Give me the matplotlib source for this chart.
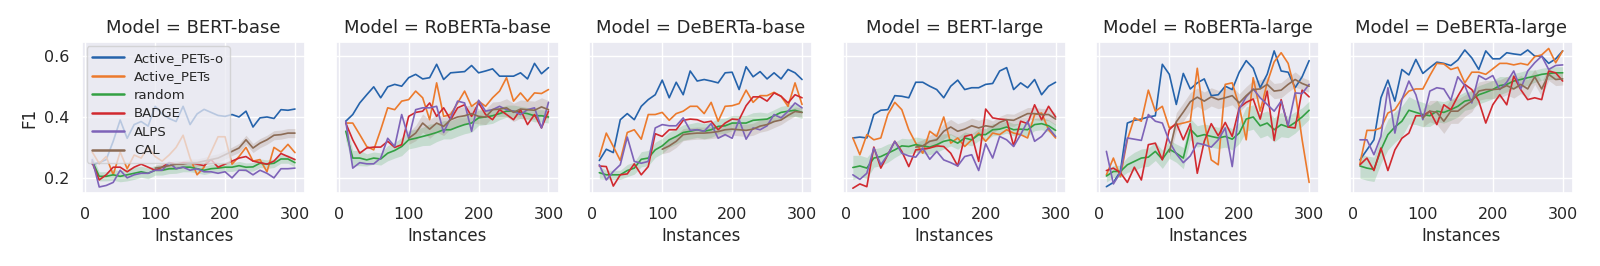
import numpy as np
import matplotlib
matplotlib.use("Agg")
import matplotlib.pyplot as plt
import seaborn as sns

models = ["BERT-base", "RoBERTa-base", "DeBERTa-base", "BERT-large", "RoBERTa-large", "DeBERTa-large"]
instances = list(range(10, 301, 10))
cal_instances = list(range(100, 301, 10))

# F1 per model, one list per strategy
pets_o = {
    "BERT-base": [0.245, 0.25, 0.26, 0.32, 0.39, 0.33, 0.375, 0.385, 0.37, 0.435, 0.41, 0.395, 0.385, 0.435, 0.375, 0.41, 0.425, 0.415, 0.405, 0.402, 0.408, 0.40, 0.419, 0.367, 0.397, 0.40, 0.395, 0.424, 0.422, 0.426],
    "RoBERTa-base": [0.386, 0.408, 0.446, 0.473, 0.499, 0.463, 0.499, 0.507, 0.501, 0.529, 0.54, 0.525, 0.529, 0.573, 0.523, 0.545, 0.547, 0.549, 0.569, 0.545, 0.551, 0.558, 0.534, 0.534, 0.534, 0.545, 0.525, 0.576, 0.542, 0.562],
    "DeBERTa-base": [0.257, 0.294, 0.283, 0.391, 0.411, 0.391, 0.435, 0.457, 0.473, 0.521, 0.463, 0.514, 0.473, 0.551, 0.518, 0.523, 0.518, 0.512, 0.545, 0.547, 0.49, 0.565, 0.532, 0.549, 0.525, 0.545, 0.525, 0.556, 0.545, 0.523],
    "BERT-large": [0.331, 0.334, 0.331, 0.408, 0.422, 0.424, 0.47, 0.468, 0.463, 0.514, 0.514, 0.501, 0.49, 0.463, 0.501, 0.521, 0.49, 0.496, 0.496, 0.507, 0.51, 0.551, 0.562, 0.49, 0.512, 0.496, 0.523, 0.473, 0.501, 0.514],
    "RoBERTa-large": [0.171, 0.185, 0.221, 0.38, 0.389, 0.393, 0.40, 0.404, 0.573, 0.54, 0.441, 0.543, 0.492, 0.512, 0.525, 0.47, 0.473, 0.501, 0.49, 0.547, 0.585, 0.56, 0.496, 0.54, 0.617, 0.551, 0.547, 0.496, 0.532, 0.585],
    "DeBERTa-large": [0.259, 0.292, 0.325, 0.463, 0.521, 0.452, 0.556, 0.538, 0.589, 0.543, 0.562, 0.58, 0.576, 0.569, 0.587, 0.62, 0.594, 0.556, 0.617, 0.591, 0.591, 0.611, 0.607, 0.604, 0.62, 0.60, 0.60, 0.576, 0.591, 0.617],
}
pets = {
    "BERT-base": [0.285, 0.247, 0.27, 0.21, 0.285, 0.23, 0.275, 0.265, 0.30, 0.27, 0.255, 0.275, 0.30, 0.34, 0.265, 0.21, 0.235, 0.285, 0.335, 0.335, 0.245, 0.27, 0.30, 0.255, 0.26, 0.22, 0.30, 0.285, 0.31, 0.283],
    "RoBERTa-base": [0.38, 0.38, 0.342, 0.303, 0.292, 0.358, 0.43, 0.424, 0.452, 0.457, 0.485, 0.463, 0.391, 0.512, 0.402, 0.408, 0.446, 0.485, 0.435, 0.452, 0.435, 0.463, 0.485, 0.529, 0.452, 0.479, 0.452, 0.479, 0.477, 0.49],
    "DeBERTa-base": [0.27, 0.347, 0.303, 0.257, 0.349, 0.358, 0.327, 0.408, 0.408, 0.415, 0.389, 0.411, 0.419, 0.435, 0.435, 0.411, 0.448, 0.386, 0.435, 0.437, 0.444, 0.488, 0.448, 0.47, 0.47, 0.481, 0.468, 0.435, 0.512, 0.441],
    "BERT-large": [0.331, 0.276, 0.342, 0.325, 0.331, 0.408, 0.448, 0.424, 0.358, 0.314, 0.281, 0.353, 0.336, 0.40, 0.314, 0.331, 0.303, 0.325, 0.347, 0.32, 0.347, 0.342, 0.358, 0.347, 0.342, 0.331, 0.408, 0.413, 0.358, 0.331],
    "RoBERTa-large": [0.21, 0.265, 0.204, 0.325, 0.397, 0.386, 0.488, 0.419, 0.435, 0.364, 0.375, 0.38, 0.386, 0.56, 0.386, 0.259, 0.243, 0.507, 0.512, 0.435, 0.325, 0.529, 0.419, 0.512, 0.581, 0.611, 0.576, 0.485, 0.325, 0.185],
    "DeBERTa-large": [0.246, 0.356, 0.356, 0.364, 0.413, 0.424, 0.459, 0.485, 0.492, 0.492, 0.536, 0.576, 0.574, 0.556, 0.563, 0.512, 0.547, 0.547, 0.54, 0.558, 0.576, 0.576, 0.571, 0.576, 0.571, 0.598, 0.604, 0.625, 0.578, 0.617],
}
random_f1 = {
    "BERT-base": [0.255, 0.205, 0.205, 0.21, 0.205, 0.21, 0.215, 0.22, 0.215, 0.225, 0.225, 0.23, 0.23, 0.235, 0.235, 0.23, 0.225, 0.23, 0.232, 0.235, 0.235, 0.24, 0.235, 0.236, 0.248, 0.245, 0.248, 0.262, 0.262, 0.25],
    "RoBERTa-base": [0.353, 0.265, 0.265, 0.259, 0.265, 0.262, 0.281, 0.29, 0.303, 0.325, 0.33, 0.336, 0.342, 0.349, 0.358, 0.358, 0.367, 0.375, 0.38, 0.397, 0.40, 0.404, 0.411, 0.419, 0.419, 0.415, 0.411, 0.404, 0.404, 0.40],
    "DeBERTa-base": [0.217, 0.21, 0.21, 0.21, 0.224, 0.232, 0.261, 0.265, 0.292, 0.305, 0.325, 0.336, 0.349, 0.353, 0.358, 0.353, 0.358, 0.369, 0.371, 0.38, 0.38, 0.38, 0.389, 0.391, 0.393, 0.404, 0.415, 0.419, 0.422, 0.415],
    "BERT-large": [0.234, 0.239, 0.232, 0.265, 0.27, 0.281, 0.292, 0.305, 0.303, 0.309, 0.305, 0.301, 0.309, 0.32, 0.325, 0.314, 0.331, 0.325, 0.342, 0.342, 0.358, 0.36, 0.367, 0.358, 0.36, 0.358, 0.375, 0.378, 0.371, 0.356],
    "RoBERTa-large": [0.206, 0.221, 0.221, 0.243, 0.254, 0.265, 0.268, 0.287, 0.261, 0.294, 0.281, 0.265, 0.36, 0.336, 0.342, 0.336, 0.331, 0.336, 0.327, 0.347, 0.393, 0.40, 0.371, 0.38, 0.358, 0.375, 0.367, 0.382, 0.40, 0.422],
    "DeBERTa-large": [0.239, 0.232, 0.228, 0.292, 0.342, 0.367, 0.386, 0.422, 0.415, 0.408, 0.404, 0.419, 0.415, 0.424, 0.435, 0.452, 0.457, 0.473, 0.481, 0.49, 0.503, 0.507, 0.518, 0.523, 0.529, 0.534, 0.54, 0.543, 0.545, 0.545],
}
badge = {
    "BERT-base": [0.25, 0.193, 0.21, 0.235, 0.235, 0.22, 0.235, 0.245, 0.235, 0.225, 0.235, 0.25, 0.245, 0.25, 0.25, 0.245, 0.24, 0.26, 0.235, 0.245, 0.255, 0.265, 0.27, 0.255, 0.25, 0.245, 0.255, 0.28, 0.27, 0.26],
    "RoBERTa-base": [0.38, 0.325, 0.281, 0.298, 0.301, 0.301, 0.32, 0.30, 0.309, 0.402, 0.415, 0.419, 0.446, 0.402, 0.43, 0.391, 0.43, 0.44, 0.402, 0.446, 0.408, 0.391, 0.424, 0.408, 0.391, 0.424, 0.375, 0.408, 0.364, 0.419],
    "DeBERTa-base": [0.239, 0.237, 0.173, 0.21, 0.213, 0.246, 0.21, 0.237, 0.345, 0.336, 0.358, 0.358, 0.389, 0.393, 0.391, 0.382, 0.386, 0.358, 0.38, 0.393, 0.391, 0.437, 0.466, 0.466, 0.452, 0.479, 0.468, 0.446, 0.473, 0.463],
    "BERT-large": [0.166, 0.18, 0.171, 0.301, 0.232, 0.276, 0.32, 0.287, 0.237, 0.292, 0.294, 0.298, 0.305, 0.303, 0.281, 0.239, 0.336, 0.342, 0.254, 0.426, 0.397, 0.393, 0.391, 0.305, 0.386, 0.378, 0.44, 0.391, 0.435, 0.40],
    "RoBERTa-large": [0.224, 0.232, 0.217, 0.185, 0.235, 0.193, 0.309, 0.314, 0.259, 0.358, 0.38, 0.325, 0.378, 0.215, 0.32, 0.378, 0.338, 0.382, 0.336, 0.43, 0.448, 0.459, 0.393, 0.485, 0.323, 0.457, 0.367, 0.364, 0.488, 0.466],
    "DeBERTa-large": [0.243, 0.265, 0.224, 0.298, 0.224, 0.292, 0.33, 0.347, 0.404, 0.404, 0.419, 0.375, 0.44, 0.424, 0.468, 0.507, 0.49, 0.452, 0.38, 0.44, 0.473, 0.44, 0.534, 0.49, 0.457, 0.463, 0.457, 0.551, 0.545, 0.518],
}
alps = {
    "BERT-base": [0.26, 0.17, 0.175, 0.185, 0.225, 0.2, 0.21, 0.215, 0.215, 0.225, 0.225, 0.25, 0.23, 0.235, 0.225, 0.23, 0.22, 0.22, 0.215, 0.22, 0.20, 0.225, 0.225, 0.21, 0.225, 0.215, 0.20, 0.23, 0.23, 0.232],
    "RoBERTa-base": [0.386, 0.232, 0.25, 0.246, 0.246, 0.265, 0.33, 0.303, 0.408, 0.33, 0.424, 0.43, 0.43, 0.435, 0.349, 0.397, 0.452, 0.446, 0.353, 0.455, 0.419, 0.424, 0.435, 0.424, 0.419, 0.408, 0.424, 0.43, 0.364, 0.448],
    "DeBERTa-base": [0.243, 0.193, 0.221, 0.243, 0.334, 0.254, 0.248, 0.254, 0.364, 0.375, 0.371, 0.371, 0.397, 0.356, 0.358, 0.353, 0.378, 0.33, 0.342, 0.33, 0.391, 0.327, 0.364, 0.358, 0.371, 0.408, 0.397, 0.419, 0.446, 0.43],
    "BERT-large": [0.21, 0.195, 0.215, 0.298, 0.243, 0.276, 0.32, 0.281, 0.272, 0.268, 0.298, 0.261, 0.287, 0.259, 0.25, 0.239, 0.27, 0.276, 0.224, 0.312, 0.265, 0.336, 0.325, 0.303, 0.342, 0.386, 0.32, 0.336, 0.364, 0.336],
    "RoBERTa-large": [0.287, 0.18, 0.217, 0.331, 0.327, 0.323, 0.408, 0.386, 0.38, 0.32, 0.279, 0.25, 0.272, 0.314, 0.309, 0.301, 0.325, 0.364, 0.237, 0.426, 0.466, 0.492, 0.463, 0.441, 0.419, 0.452, 0.371, 0.479, 0.477, 0.507],
    "DeBERTa-large": [0.325, 0.325, 0.276, 0.336, 0.496, 0.347, 0.457, 0.518, 0.473, 0.391, 0.485, 0.496, 0.492, 0.455, 0.532, 0.503, 0.446, 0.536, 0.523, 0.536, 0.49, 0.514, 0.551, 0.492, 0.551, 0.578, 0.60, 0.556, 0.569, 0.571],
}
cal = {
    "BERT-base": [0.232, 0.235, 0.24, 0.245, 0.245, 0.25, 0.25, 0.255, 0.26, 0.265, 0.276, 0.287, 0.298, 0.325, 0.298, 0.314, 0.325, 0.34, 0.342, 0.347, 0.347],
    "RoBERTa-base": [0.33, 0.347, 0.38, 0.36, 0.38, 0.369, 0.391, 0.40, 0.404, 0.411, 0.402, 0.40, 0.424, 0.426, 0.43, 0.415, 0.426, 0.424, 0.422, 0.433, 0.424],
    "DeBERTa-base": [0.294, 0.305, 0.32, 0.342, 0.345, 0.347, 0.347, 0.349, 0.352, 0.358, 0.36, 0.358, 0.356, 0.36, 0.37, 0.375, 0.385, 0.39, 0.405, 0.418, 0.415],
    "BERT-large": [0.301, 0.305, 0.32, 0.325, 0.353, 0.367, 0.353, 0.36, 0.371, 0.364, 0.371, 0.367, 0.382, 0.391, 0.389, 0.40, 0.411, 0.411, 0.408, 0.408, 0.393],
    "RoBERTa-large": [0.285, 0.384, 0.416, 0.45, 0.465, 0.452, 0.466, 0.457, 0.463, 0.47, 0.446, 0.47, 0.49, 0.492, 0.507, 0.485, 0.488, 0.507, 0.523, 0.51, 0.501],
    "DeBERTa-large": [0.397, 0.419, 0.415, 0.386, 0.419, 0.419, 0.437, 0.452, 0.485, 0.49, 0.49, 0.492, 0.503, 0.492, 0.507, 0.492, 0.532, 0.492, 0.54, 0.523, 0.525],
}

# half width of the confidence bands
random_ci = {
    "BERT-base": [0.018, 0.015, 0.015, 0.018, 0.018, 0.02, 0.02, 0.018, 0.018, 0.016, 0.016, 0.016, 0.015, 0.015, 0.015, 0.014, 0.014, 0.014, 0.014, 0.014, 0.014, 0.014, 0.014, 0.014, 0.014, 0.014, 0.014, 0.014, 0.014, 0.014],
    "RoBERTa-base": [0.03, 0.025, 0.025, 0.02, 0.02, 0.02, 0.025, 0.025, 0.03, 0.03, 0.03, 0.03, 0.035, 0.03, 0.03, 0.03, 0.03, 0.03, 0.03, 0.025, 0.025, 0.025, 0.02, 0.02, 0.02, 0.02, 0.02, 0.02, 0.02, 0.02],
    "DeBERTa-base": [0.02, 0.015, 0.015, 0.015, 0.02, 0.02, 0.025, 0.025, 0.025, 0.025, 0.025, 0.025, 0.025, 0.025, 0.025, 0.025, 0.025, 0.025, 0.025, 0.025, 0.025, 0.025, 0.025, 0.025, 0.02, 0.02, 0.02, 0.02, 0.02, 0.02],
    "BERT-large": [0.04, 0.035, 0.035, 0.03, 0.03, 0.03, 0.025, 0.025, 0.025, 0.025, 0.025, 0.025, 0.025, 0.025, 0.02, 0.02, 0.02, 0.02, 0.02, 0.02, 0.02, 0.02, 0.02, 0.02, 0.02, 0.02, 0.02, 0.02, 0.02, 0.02],
    "RoBERTa-large": [0.02, 0.02, 0.02, 0.025, 0.03, 0.03, 0.03, 0.03, 0.03, 0.03, 0.03, 0.035, 0.035, 0.035, 0.035, 0.035, 0.035, 0.035, 0.035, 0.035, 0.04, 0.04, 0.04, 0.04, 0.04, 0.04, 0.035, 0.035, 0.03, 0.03],
    "DeBERTa-large": [0.04, 0.04, 0.04, 0.045, 0.05, 0.05, 0.05, 0.045, 0.04, 0.04, 0.035, 0.035, 0.035, 0.035, 0.035, 0.03, 0.03, 0.03, 0.03, 0.03, 0.03, 0.025, 0.025, 0.025, 0.025, 0.02, 0.02, 0.02, 0.02, 0.02],
}
cal_ci = {
    "BERT-base": [0.01, 0.012, 0.012, 0.012, 0.012, 0.012, 0.012, 0.012, 0.014, 0.014, 0.014, 0.014, 0.015, 0.015, 0.015, 0.015, 0.015, 0.015, 0.015, 0.015, 0.015],
    "RoBERTa-base": [0.02, 0.025, 0.03, 0.03, 0.03, 0.03, 0.03, 0.03, 0.03, 0.03, 0.025, 0.025, 0.025, 0.025, 0.03, 0.03, 0.03, 0.03, 0.03, 0.03, 0.03],
    "DeBERTa-base": [0.015, 0.02, 0.02, 0.02, 0.02, 0.02, 0.02, 0.02, 0.02, 0.02, 0.02, 0.02, 0.02, 0.02, 0.02, 0.02, 0.02, 0.015, 0.015, 0.015, 0.015],
    "BERT-large": [0.015, 0.02, 0.02, 0.025, 0.025, 0.025, 0.025, 0.025, 0.025, 0.025, 0.025, 0.02, 0.02, 0.02, 0.02, 0.02, 0.02, 0.02, 0.02, 0.02, 0.02],
    "RoBERTa-large": [0.02, 0.03, 0.03, 0.03, 0.03, 0.03, 0.03, 0.03, 0.03, 0.03, 0.03, 0.03, 0.03, 0.03, 0.025, 0.025, 0.025, 0.025, 0.025, 0.02, 0.02],
    "DeBERTa-large": [0.03, 0.035, 0.04, 0.04, 0.04, 0.04, 0.035, 0.035, 0.03, 0.03, 0.03, 0.03, 0.03, 0.03, 0.03, 0.03, 0.025, 0.025, 0.02, 0.02, 0.02],
}

colors = {
    "Active_PETs-o": "#2563ab",
    "Active_PETs": "#ec7a2c",
    "random": "#33a043",
    "BADGE": "#d1292f",
    "ALPS": "#7e63b8",
    "CAL": "#8c6b55",
}

sns.set_theme(style="darkgrid")

fig, axes = plt.subplots(1, 6, figsize=(16, 2.66), dpi=100, sharey=True)
fig.subplots_adjust(left=0.0513, right=0.983, top=0.843, bottom=0.273, wspace=0.137)

for ax, m in zip(axes, models):
    x = np.array(instances)
    xc = np.array(cal_instances)
    ax.plot(x, pets_o[m], color=colors["Active_PETs-o"], lw=1.2, label="Active_PETs-o")
    ax.plot(x, pets[m], color=colors["Active_PETs"], lw=1.2, label="Active_PETs")
    r = np.array(random_f1[m])
    rc = np.array(random_ci[m])
    ax.plot(x, r, color=colors["random"], lw=1.2, label="random")
    ax.fill_between(x, r - rc, r + rc, color=colors["random"], alpha=0.2, lw=0)
    ax.plot(x, badge[m], color=colors["BADGE"], lw=1.2, label="BADGE")
    ax.plot(x, alps[m], color=colors["ALPS"], lw=1.2, label="ALPS")
    c = np.array(cal[m])
    cc = np.array(cal_ci[m])
    ax.plot(xc, c, color=colors["CAL"], lw=1.2, label="CAL")
    ax.fill_between(xc, c - cc, c + cc, color=colors["CAL"], alpha=0.2, lw=0)

    ax.set_title(f"Model = {m}", fontsize=13)
    ax.set_xlabel("Instances", fontsize=12)
    ax.set_xlim(-4.5, 314.5)
    ax.set_xticks([0, 100, 200, 300])
    ax.tick_params(labelsize=11.5)

axes[0].set_ylim(0.149, 0.647)
axes[0].set_yticks([0.2, 0.4, 0.6])
axes[0].set_ylabel("F1", fontsize=12)

leg = axes[0].legend(loc="upper left", fontsize=9.5, handlelength=2.4, labelspacing=0.42,
                     borderaxespad=0.35, framealpha=0.75)
for h in leg.get_lines():
    h.set_linewidth(1.8)

fig.savefig("out.png", dpi=100)
